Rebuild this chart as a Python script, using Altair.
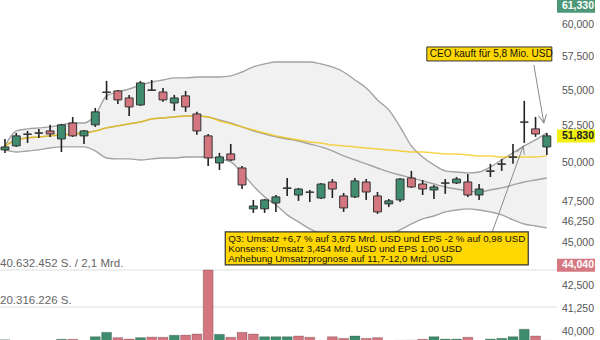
import altair as alt
import numpy as np
import pandas as pd

# ---------------- data (prices in USD, volume in million shares) ----------------
candle_no = list(range(1, 50))
open_usd = [50.88, 51.15, 51.93, 52.01, 52.17, 51.62, 52.72, 51.83, 52.59, 54.89,
            55.00, 54.49, 53.99, 55.04, 54.92, 54.13, 54.64, 53.35, 51.83, 50.01,
            50.61, 49.68, 47.07, 47.07, 47.44, 48.36, 47.94, 48.11, 47.75, 48.77,
            47.88, 47.82, 48.77, 47.88, 47.38, 47.63, 49.03, 48.64, 48.26, 48.69,
            48.71, 48.77, 47.94, 49.46, 49.92, 50.38, 52.77, 52.31, 51.08]
high_usd = [51.62, 52.03, 52.17, 52.31, 52.59, 52.66, 53.14, 52.24, 53.78, 55.73,
            55.07, 54.71, 55.73, 55.80, 55.21, 54.71, 55.00, 53.50, 51.96, 50.68,
            51.28, 49.81, 47.63, 47.69, 47.94, 49.03, 48.39, 48.26, 48.71, 48.96,
            48.07, 49.03, 48.96, 48.13, 47.69, 49.03, 49.49, 48.90, 48.58, 48.96,
            49.09, 49.29, 48.64, 49.95, 50.28, 51.28, 54.28, 53.14, 52.03]
low_usd = [50.68, 51.08, 51.35, 51.69, 51.76, 50.74, 51.76, 51.28, 52.45, 54.35,
           54.06, 53.21, 53.92, 55.00, 54.21, 53.57, 53.50, 51.90, 49.81, 49.55,
           50.14, 48.32, 46.82, 46.82, 46.88, 47.88, 47.57, 47.50, 47.69, 47.75,
           46.88, 47.75, 47.63, 46.76, 47.19, 47.50, 48.39, 47.94, 47.69, 48.01,
           48.64, 47.82, 47.63, 49.09, 49.49, 49.95, 51.35, 51.76, 50.54]
close_usd = [51.08, 51.83, 51.96, 52.04, 51.96, 52.59, 51.83, 52.17, 53.50, 54.92,
             54.35, 53.85, 55.58, 55.07, 54.35, 54.49, 53.85, 52.17, 50.34, 50.41,
             50.21, 48.58, 47.25, 47.63, 47.82, 48.39, 48.32, 48.13, 48.64, 48.32,
             47.13, 48.84, 48.13, 46.88, 47.57, 48.96, 48.45, 48.32, 48.45, 48.71,
             48.96, 47.94, 48.32, 49.49, 49.95, 50.41, 52.79, 51.96, 51.83]
volume_mio = [2.3, 1.9, 1.6, 1.5, 1.7, 2.6, 2.6, 1.9, 4.0, 6.4,
              3.5, 2.7, 3.5, 3.8, 3.7, 4.8, 4.9, 5.5, 40.632452, 5.3,
              3.7, 6.4, 5.5, 4.0, 4.0, 4.0, 4.4, 3.7, 1.9, 4.0,
              3.1, 4.4, 3.1, 3.5, 1.8, 2.0, 2.1, 2.6, 4.0, 2.7,
              2.7, 3.7, 1.9, 2.7, 3.1, 4.0, 8.1, 4.4, 2.0]
bb_upper = [51.15, 52.17, 52.31, 52.38, 52.45, 52.59, 52.72, 52.72, 53.28, 54.64,
            54.92, 55.14, 55.43, 55.65, 55.80, 55.95, 55.95, 56.02, 56.02, 56.02,
            56.10, 56.39, 56.77, 56.99, 57.14, 57.14, 57.14, 57.14, 56.99, 56.77,
            56.39, 55.80, 55.21, 54.35, 53.64, 52.45, 51.15, 50.41, 49.88, 49.49,
            49.42, 49.36, 49.42, 49.75, 50.21, 50.68, 51.15, 51.55, 52.03]
bb_mid = [51.15, 51.55, 51.69, 51.76, 51.83, 51.90, 51.96, 52.03, 52.17, 52.38,
          52.52, 52.66, 52.79, 53.00, 53.07, 53.14, 53.21, 53.21, 53.14, 52.93,
          52.72, 52.45, 52.17, 51.96, 51.76, 51.62, 51.48, 51.28, 51.08, 50.81,
          50.48, 50.21, 49.95, 49.68, 49.42, 49.22, 49.03, 48.84, 48.64, 48.45,
          48.32, 48.20, 48.13, 48.26, 48.39, 48.58, 48.77, 48.90, 49.03]
bb_lower = [50.88, 50.74, 50.81, 50.88, 51.01, 51.08, 51.08, 51.08, 50.81, 50.34,
            50.28, 50.28, 50.21, 50.28, 50.34, 50.34, 50.41, 50.41, 50.41, 50.28,
            50.08, 49.36, 48.52, 47.82, 47.32, 46.70, 46.27, 45.84, 45.54, 45.24,
            45.06, 44.94, 45.00, 45.18, 45.48, 45.78, 46.14, 46.45, 46.63, 46.88,
            47.00, 47.07, 47.00, 46.88, 46.70, 46.39, 46.14, 46.02, 45.90]
ma_line = [51.15, 51.55, 51.69, 51.76, 51.83, 51.90, 51.96, 52.03, 52.17, 52.38,
           52.52, 52.66, 52.79, 53.00, 53.07, 53.14, 53.21, 53.21, 53.14, 52.86,
           52.66, 52.45, 52.24, 52.03, 51.83, 51.69, 51.55, 51.42, 51.35, 51.21,
           51.15, 51.08, 51.01, 50.94, 50.88, 50.81, 50.74, 50.74, 50.68, 50.61,
           50.61, 50.54, 50.48, 50.48, 50.41, 50.41, 50.41, 50.41, 50.48]

axis_values = [40.0, 41.25, 42.5, 45.0, 46.25, 47.5, 50.0, 52.5, 55.0, 57.5, 60.0]
marker_values = [61.33, 51.83, 44.04]
marker_kind = ["high", "last", "low"]
vol_grid_values = [20.316226, 40.632452]
vol_grid_labels = ["20.316.226 S.", "40.632.452 S. / 2,1 Mrd."]

ceo_candle = 49
ceo_text = "CEO kauft für 5,8 Mio. USD"
q3_candle = 47
q3_lines = ["Q3: Umsatz +6,7 % auf 3,675 Mrd. USD und EPS -2 % auf 0,98 USD",
            "Konsens: Umsatz 3,454 Mrd. USD und EPS 1,00 USD",
            "Anhebung Umsatzprognose auf 11,7-12,0 Mrd. USD"]

# ---------------- tables ----------------
df = pd.DataFrame({"idx": candle_no, "open": open_usd, "high": high_usd, "low": low_usd,
                   "close": close_usd, "vol": volume_mio, "upper": bb_upper,
                   "mid": bb_mid, "lower": bb_lower, "ma": ma_line})
df["dir"] = np.where(df["close"] >= df["open"], "up", "down")
prev_close = df["close"].shift(1).fillna(df["open"].iloc[0])
df["vdir"] = np.where(df["close"] >= prev_close, "up", "down")

grid_df = pd.DataFrame({"v": vol_grid_values, "label": vol_grid_labels})
tick_df = pd.DataFrame({"value": axis_values})
marker_df = pd.DataFrame({"value": marker_values, "kind": marker_kind})
ceo_df = pd.DataFrame({"idx": [ceo_candle], "price": [high_usd[ceo_candle - 1]]})
q3_df = pd.DataFrame({"idx": [q3_candle], "price": [low_usd[q3_candle - 1]]})

FONT = "Liberation Sans"
DE_FMT = "replace(format(datum.value, '.3f'), '.', ',')"
XS = alt.Scale(domain=[0.56, 49.9], nice=False, zero=False)
YS = alt.Scale(type="log", domain=[39.59, 62.01], nice=False)
VS = alt.Scale(domain=[0, 40.632452], range=[344, 270], nice=False, zero=False)
CS = alt.Scale(domain=["up", "down"], range=["#3f8d6e", "#d4767f"])


def X(f):
    return alt.X(f, type="quantitative", scale=XS, axis=None)


def Y(f):
    return alt.Y(f, type="quantitative", scale=YS, axis=None)


base = alt.Chart(df)

# ---------------- volume panel ----------------
vol_grid = alt.Chart(grid_df).mark_rule(color="#dedede", strokeWidth=1).encode(
    y=alt.Y("v:Q", scale=VS, axis=None))
vol_text = alt.Chart(grid_df).mark_text(align="left", baseline="alphabetic", dy=-3,
                                        fontSize=11.5, font=FONT, color="#666").encode(
    x=alt.value(0), y=alt.Y("v:Q", scale=VS, axis=None), text="label:N")
vol_bars = base.transform_calculate(
    vxl="datum.idx - 0.44", vxr="datum.idx + 0.44"
).mark_rect(stroke="rgba(0,0,0,0.25)", strokeWidth=0.8).encode(
    x=X("vxl"), x2="vxr:Q",
    y=alt.Y("vol:Q", scale=VS, axis=None), y2=alt.datum(0),
    color=alt.Color("vdir:N", scale=CS, legend=None))
volume = alt.layer(vol_grid, vol_bars, vol_text)

# ---------------- price panel ----------------
band = base.mark_area(color="#f1f1f1", interpolate="monotone").encode(
    x=X("idx"), y=Y("lower"), y2="upper:Q")
band_lines = [base.mark_line(color="#a3a3a3", strokeWidth=1.4, interpolate="monotone").encode(
    x=X("idx"), y=Y(f)) for f in ["upper", "lower", "mid"]]
ma = base.mark_line(color="#f5c400", strokeWidth=1.5, opacity=0.72,
                    interpolate="monotone").encode(x=X("idx"), y=Y("ma"))
wicks = base.mark_rule(color="#222", strokeWidth=1.6).encode(
    x=X("idx"), y=Y("low"), y2="high:Q")
bodies = base.transform_calculate(
    bxl="datum.idx - 0.35", bxr="datum.idx + 0.35"
).mark_rect(stroke="#333", strokeWidth=1).encode(
    x=X("bxl"), x2="bxr:Q", y=Y("open"), y2="close:Q",
    color=alt.Color("dir:N", scale=CS, legend=None))

# right-hand price labels
price_labels = alt.Chart(tick_df).transform_calculate(label=DE_FMT).mark_text(
    align="right", baseline="middle", fontSize=10.5, font=FONT, color="#555").encode(
    x=alt.value(594), y=Y("value"), text="label:N")

ARROW = "M-0.5,-1L0,0L0.5,-1"
c = alt.Chart(ceo_df)
ceo_arrow = c.mark_rule(color="#8a8a8a", strokeWidth=1, xOffset=-13, yOffset=-68,
                        x2Offset=-3, y2Offset=-10).encode(
    x=X("idx"), x2="idx:Q", y=Y("price"), y2="price:Q")
ceo_head = c.mark_point(shape=ARROW, filled=False, color="#8a8a8a", strokeWidth=1,
                        size=256, angle=350, xOffset=-3, yOffset=-10, opacity=1).encode(
    x=X("idx"), y=Y("price"))
ceo_box = c.mark_rect(fill="#ffd700", stroke="#333", strokeWidth=1, xOffset=-120,
                      x2Offset=5, yOffset=-86, y2Offset=-72).encode(
    x=X("idx"), x2="idx:Q", y=Y("price"), y2="price:Q")
ceo_label = c.mark_text(align="left", baseline="middle", dx=-117, dy=-79, fontSize=10,
                        font=FONT, color="#111").encode(
    x=X("idx"), y=Y("price"), text=alt.value(ceo_text))

q = alt.Chart(q3_df)
q3_arrow = q.mark_rule(color="#8a8a8a", strokeWidth=1, xOffset=-32, yOffset=89,
                       x2Offset=-1, y2Offset=3).encode(
    x=X("idx"), x2="idx:Q", y=Y("price"), y2="price:Q")
q3_head = q.mark_point(shape=ARROW, filled=False, color="#8a8a8a", strokeWidth=1,
                       size=256, angle=200, xOffset=-1, yOffset=3, opacity=1).encode(
    x=X("idx"), y=Y("price"))
q3_box = q.mark_rect(fill="#ffd700", stroke="#333", strokeWidth=1.2, xOffset=-299,
                     x2Offset=4, yOffset=89, y2Offset=122).encode(
    x=X("idx"), x2="idx:Q", y=Y("price"), y2="price:Q")
q3_label = q.mark_text(align="left", baseline="top", lineHeight=10, dx=-296, dy=91,
                       fontSize=9.7, font=FONT, color="#111").encode(
    x=X("idx"), y=Y("price"), text=alt.value(q3_lines))


def marker(kind, fill, tcolor, shift):
    m = alt.Chart(marker_df).transform_filter(alt.datum.kind == kind).transform_calculate(
        label=DE_FMT)
    box = m.mark_tick(thickness=13, size=38, color=fill, opacity=1, yOffset=shift).encode(
        x=alt.value(576), y=Y("value"))
    txt = m.mark_text(align="right", baseline="middle", fontWeight="bold", fontSize=10.5,
                      font=FONT, color=tcolor, dy=shift).encode(
        x=alt.value(594), y=Y("value"), text="label:N")
    return [box, txt]


markers = (marker("high", "#4c9878", "white", -2) + marker("last", "#efef10", "#222", 0)
           + marker("low", "#d67882", "white", 6))

price = alt.layer(band, *band_lines, ma, wicks, bodies, price_labels,
                  ceo_arrow, ceo_head, q3_arrow, q3_head,
                  ceo_box, ceo_label, q3_box, q3_label, *markers)

chart = alt.layer(volume, price).resolve_scale(y="independent").properties(
    width=557, height=340,
    autosize=alt.AutoSizeParams(type="none"),
    padding={"left": 0, "right": 43, "top": 0, "bottom": 0},
    background="white",
).configure_view(stroke=None)

chart.save("out.html", embed_options={"renderer": "svg", "actions": False})
